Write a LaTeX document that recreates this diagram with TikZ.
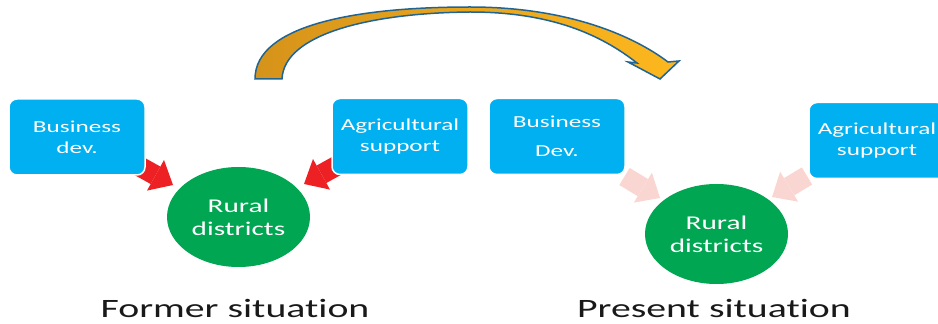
\documentclass[tikz,border=0pt]{standalone}
\usepackage{fontspec}
\setmainfont{Carlito}[FakeStretch=1.5,Ligatures=NoCommon]
\usepackage{tikz}
\usetikzlibrary{shapes.geometric,arrows.meta,backgrounds}
\definecolor{boxblue}{HTML}{00B0F0}
\definecolor{ruralgreen}{HTML}{00A651}
\definecolor{arrowred}{HTML}{ED2124}
\definecolor{arrowpink}{HTML}{FAD6D3}
\definecolor{bandblue}{HTML}{1F6492}
\definecolor{banddark}{HTML}{D6931A}
\definecolor{bandlight}{HTML}{FDB81E}

\begin{document}
\begin{tikzpicture}[x=1pt,y=1pt,
  box/.style={rectangle,rounded corners=8pt,fill=boxblue,draw=white,line width=1.5pt,minimum width=136pt,minimum height=76pt,inner sep=0pt,text=white,align=center,font=\fontsize{16.8}{21}\selectfont},
  rural/.style={ellipse,fill=ruralgreen,minimum width=143pt,minimum height=100pt,inner sep=0pt,text=white,align=center,font=\fontsize{19.5}{23}\selectfont},
  title/.style={anchor=base,inner sep=0pt,text=black!90,font=\fontsize{26.5}{30}\selectfont},
  block/.style={line width=20pt,-{Triangle[length=20pt,width=35pt,line width=0pt]}}]
\useasboundingbox (0,0) rectangle (938,324);

% former situation
\node (bd1) at (77,187) [box] {Business\\dev.};
\node (as1) at (400,187.5) [box] {Agricultural\\support};
\node (rd1) at (238.5,107) [rural] {Rural\\districts};
\node (former) at (235,6) [title] {Former situation};

% present situation
\node (bd2) at (557,187.5) [box] {Business\\[8pt]Dev.};
\node (as2) at (877,183.5) [box] {Agricultural\\support};
\node (rd2) at (716.5,90) [rural] {Rural\\districts};
\node (present) at (714,6) [title] {Present situation};

\coordinate (redtail1) at (137,159);
\coordinate (redtip1) at (173,139);
\coordinate (redtail2) at (340,160);
\coordinate (redtip2) at (304,140);
\coordinate (pinktail1) at (624.5,147.5);
\coordinate (pinktip1) at (660,126);
\coordinate (pinktail2) at (807,148);
\coordinate (pinktip2) at (772,127);

\begin{scope}[on background layer]
\draw[block,arrowred] (redtail1) -- (redtip1);
\draw[block,arrowred] (redtail2) -- (redtip2);
\draw[block,arrowpink] (pinktail1) -- (pinktip1);
\draw[block,arrowpink] (pinktail2) -- (pinktip2);
\end{scope}

% curved arrow from former to present
\path[draw=bandblue,line width=1.5pt,left color=banddark,right color=bandlight]
  (255,245) .. controls (255,300) and (360,317) .. (470,317)
  .. controls (570,317) and (635,287) .. (668,262)
  -- (679,263) -- (660,245) -- (628,262) -- (637,261)
  .. controls (600,290) and (550,312) .. (470,312)
  .. controls (370,311) and (284,290) .. (282,245) -- cycle;
\end{tikzpicture}
\end{document}
